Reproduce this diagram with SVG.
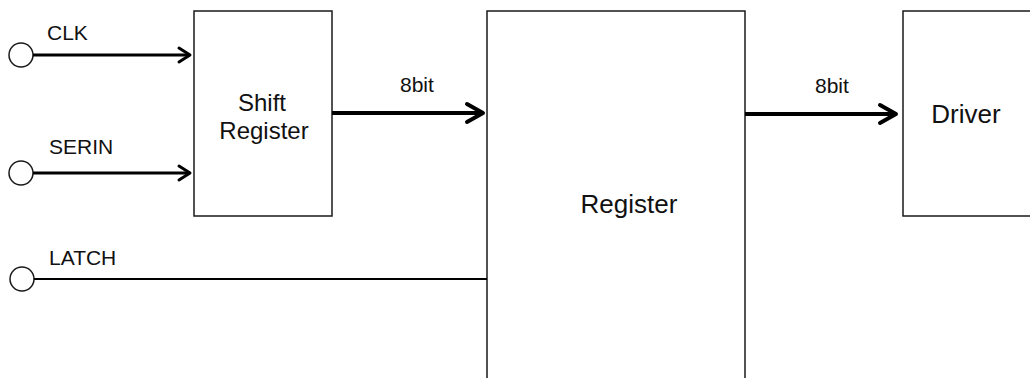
<svg xmlns="http://www.w3.org/2000/svg" width="1030" height="378" viewBox="0 0 1030 378">
<style>
.box{fill:#fff;stroke:#1a1a1a;stroke-width:1.5}
.pin{fill:#fff;stroke:#1a1a1a;stroke-width:1.5}
.lbl{font-family:"Liberation Sans",Arial,sans-serif;fill:#111}
.big{font-size:26px}
.mid{font-size:24px}
.sm{font-size:21px}
.w{fill:none;stroke:#000;stroke-linecap:butt}
.ah{fill:none;stroke:#000;stroke-linecap:round;stroke-linejoin:round}
</style>
<rect width="1030" height="378" fill="#fff"/>
<g id="shift-register">
<rect class="box" x="194" y="11" width="138" height="205"/>
<text class="lbl mid" x="262" y="111" text-anchor="middle">Shift</text>
<text class="lbl mid" x="264" y="139" text-anchor="middle">Register</text>
</g>
<g id="register">
<rect class="box" x="487" y="11" width="258" height="400"/>
<text class="lbl big" x="629" y="213" text-anchor="middle">Register</text>
</g>
<g id="driver">
<rect class="box" x="903" y="11" width="140" height="205"/>
<text class="lbl big" x="966" y="123" text-anchor="middle">Driver</text>
</g>
<g id="pin-clk">
<circle class="pin" cx="21" cy="55" r="12"/>
<text class="lbl sm" x="47" y="40">CLK</text>
</g>
<g id="pin-serin">
<circle class="pin" cx="21" cy="173" r="12"/>
<text class="lbl sm" x="49" y="154">SERIN</text>
</g>
<g id="pin-latch">
<circle class="pin" cx="22" cy="279" r="12"/>
<text class="lbl sm" x="49" y="265">LATCH</text>
</g>
<g id="connectors">
<line class="w" x1="33" y1="55" x2="190" y2="55" stroke-width="3"/>
<polyline class="ah" points="179,48 190,55 179,62" stroke-width="3"/>
<line class="w" x1="33" y1="173" x2="190" y2="173" stroke-width="3"/>
<polyline class="ah" points="179,166 190,173 179,180" stroke-width="3"/>
<line class="w" x1="34" y1="279" x2="487" y2="279" stroke-width="2"/>
<line class="w" x1="332" y1="113" x2="483" y2="113" stroke-width="4"/>
<polyline class="ah" points="467,104 483,113 467,122" stroke-width="4"/>
<text class="lbl sm" x="400" y="92">8bit</text>
<line class="w" x1="745" y1="114" x2="896" y2="114" stroke-width="4"/>
<polyline class="ah" points="880,105 896,114 880,123" stroke-width="4"/>
<text class="lbl sm" x="815" y="93">8bit</text>
</g>
</svg>
